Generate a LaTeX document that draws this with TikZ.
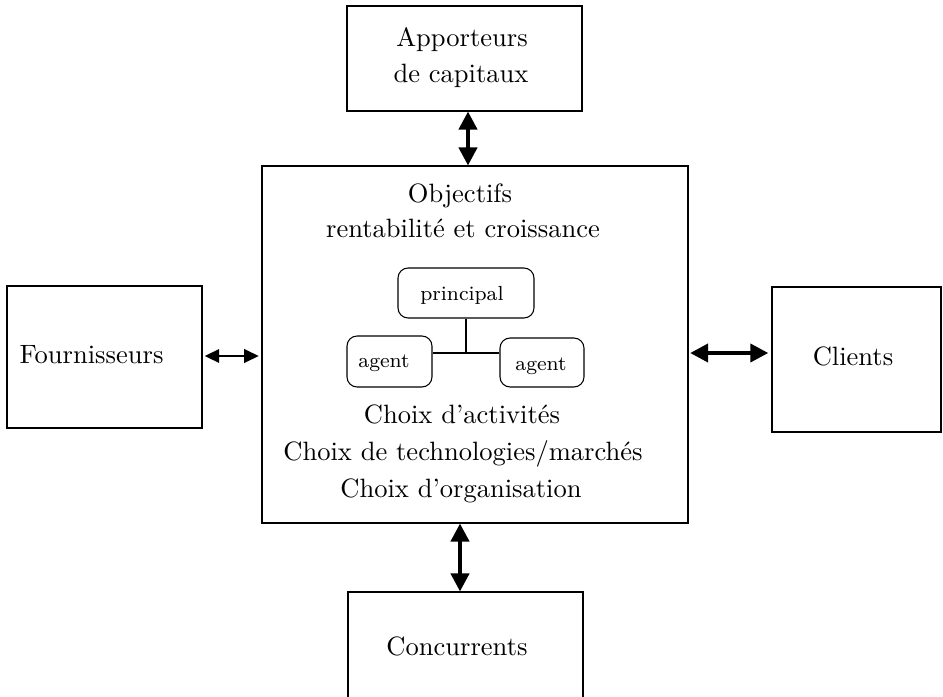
\documentclass[tikz,border=0pt]{standalone}
\usepackage{fontspec}
\usetikzlibrary{arrows.meta,fit}
\tikzset{
  box/.style={draw, line width=0.4pt, inner sep=0pt, rectangle},
  rbox/.style={draw, line width=0.4pt, inner sep=0pt, rectangle, rounded corners=3.8pt},
  txt/.style={anchor=base, inner sep=0pt, font=\fontsize{10}{12}\selectfont},
  stxt/.style={anchor=base, inner sep=0pt, font=\fontsize{7.7}{9}\selectfont},
  dbl/.style={{Triangle[length=6.8pt,width=6.8pt]}-{Triangle[length=6.8pt,width=6.8pt]}, line width=1.5pt},
  dbls/.style={{Triangle[length=5.5pt,width=5pt]}-{Triangle[length=5.5pt,width=5pt]}, line width=1.1pt},
  link/.style={line width=0.4pt}
}
\begin{document}
\begin{tikzpicture}[x=0.377pt,y=-0.377pt]
\useasboundingbox (0,0) rectangle (943,696);
\clip (0,0) rectangle (943,696);
% boxes
\node[box, fit={(347,6) (582,111)}] (app) {};
\node[box, fit={(262,166) (688,523)}] (main) {};
\node[box, fit={(7,286) (202,428)}] (four) {};
\node[box, fit={(772,287) (941,432)}] (cli) {};
\node[box, fit={(348,592) (583,730)}] (conc) {};
\node[rbox, fit={(398,268) (534,318)}] (princ) {};
\node[rbox, fit={(347,336) (432,387)}] (ag1) {};
\node[rbox, fit={(500,338) (584,387)}] (ag2) {};
% texts
\node[txt] (t1) at (462,47) {Apporteurs};
\node[txt] (t2) at (461,83) {de capitaux};
\node[txt] (t3) at (460,202) {Objectifs};
\node[txt] (t4) at (463,237) {rentabilité et croissance};
\node[stxt] (t5) at (462,300) {principal};
\node[stxt] (t6) at (384,367) {agent};
\node[stxt] (t7) at (541,370) {agent};
\node[txt] (t8) at (462,423) {Choix d'activités};
\node[txt] (t9) at (463,460) {Choix de technologies/marchés};
\node[txt] (t10) at (461,497) {Choix d'organisation};
\node[txt] (t11) at (91.5,363) {Fournisseurs};
\node[txt] (t12) at (853,365) {Clients};
\node[txt] (t13) at (457,655) {Concurrents};
% connector inside
\coordinate (jn) at (466,353);
\draw[link] (princ.south -| jn) -- (jn);
\draw[link] (ag1.east |- jn) -- (ag2.west |- jn);
% arrows
\coordinate (ta) at (468,0);
\coordinate (ba) at (460,0);
\coordinate (la) at (0,356);
\coordinate (ra) at (0,353);
\draw[dbl] (app.south -| ta) -- (main.north -| ta);
\draw[dbl] (main.south -| ba) -- (conc.north -| ba);
\draw[dbls, shorten <=0.8pt, shorten >=1pt] (four.east |- la) -- (main.west |- la);
\draw[dbl, shorten <=0.6pt, shorten >=1.2pt] (main.east |- ra) -- (cli.west |- ra);
\end{tikzpicture}
\end{document}
